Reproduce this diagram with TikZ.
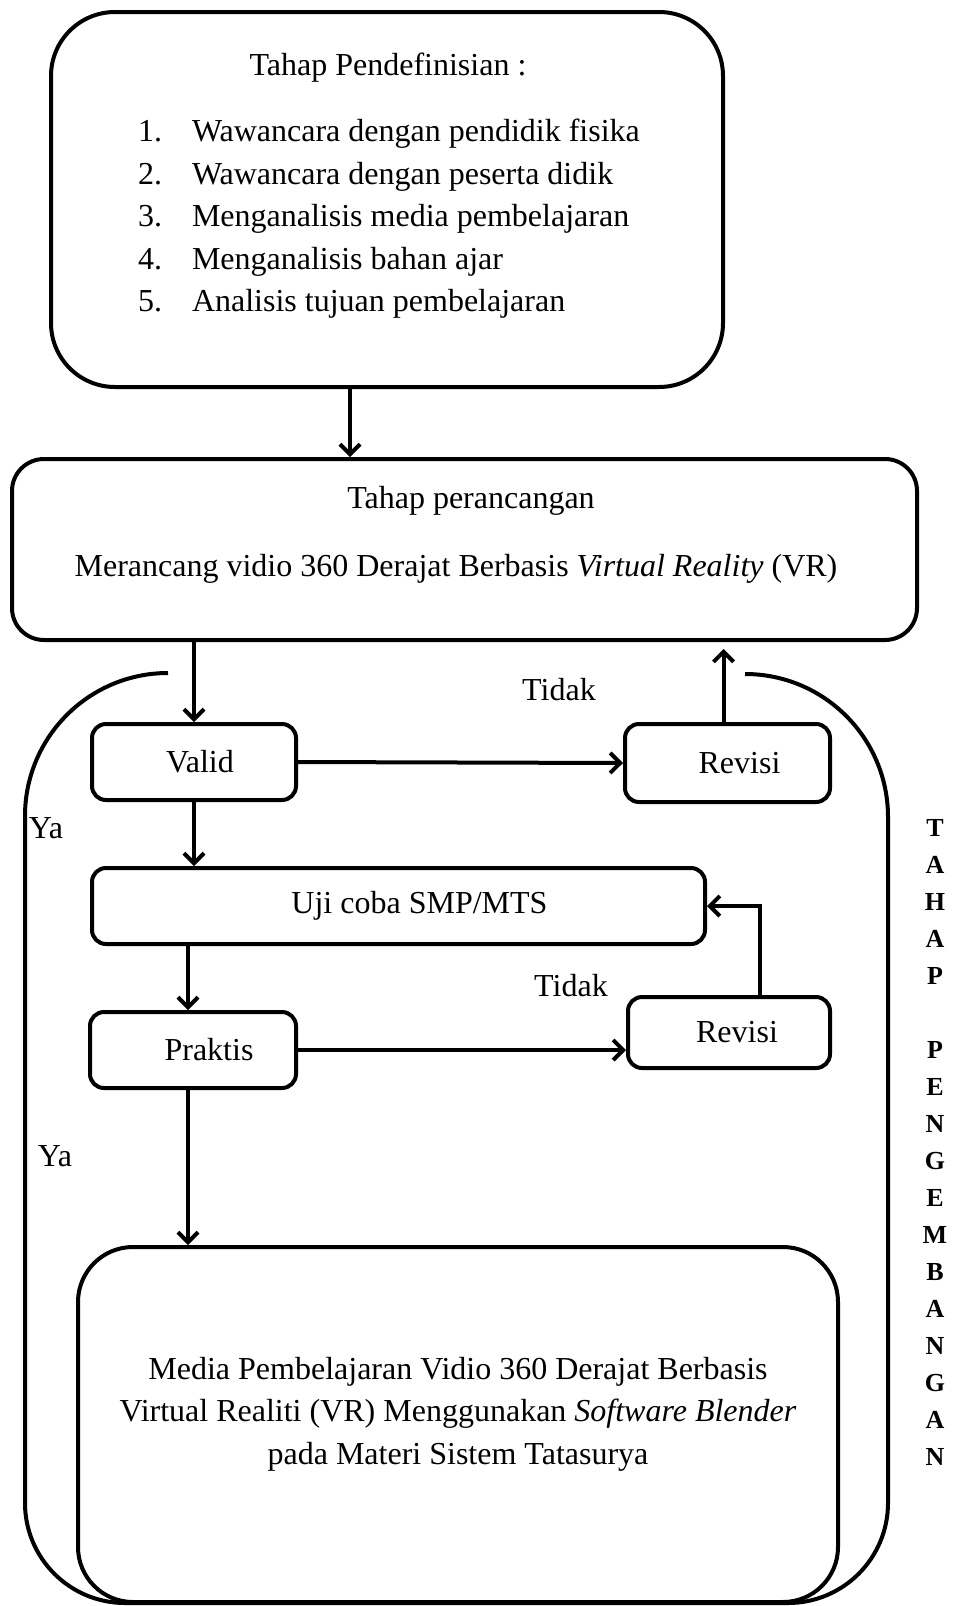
\documentclass[tikz,border=0pt]{standalone}
\usepackage{fontspec}
\setmainfont{Liberation Serif}
\usetikzlibrary{arrows.meta}

\begin{document}
\begin{tikzpicture}[
    x=0.5pt, y=-0.5pt,
    line width=2pt,
    font=\fontsize{16}{21.25}\selectfont,
    lbl/.style = {inner sep=0pt, text height=0.68em, text depth=0.2em, yshift=-3pt},
    blk/.style = {draw, rounded corners=#1, inner sep=0pt},
    blk/.default = 7pt,
    arr/.style = {-{Straight Barb[length=5pt,width=10pt]}},
  ]
  \useasboundingbox (0,0) rectangle (958,1606);

  % tahap pendefinisian
  \node[blk=32pt, minimum width=336pt, minimum height=187.5pt] (def) at (387,199.5) {};
  \node[lbl] (deftitle) at (388,65) {Tahap Pendefinisian :};
  \foreach \t [count=\i] in {Wawancara dengan pendidik fisika, Wawancara dengan peserta didik,
      Menganalisis media pembelajaran, Menganalisis bahan ajar, Analisis tujuan pembelajaran} {
    \node[lbl, anchor=east] (num\i) at (164,88.5+42.5*\i) {\i.};
    \node[lbl, anchor=west] (item\i) at (190,88.5+42.5*\i) {\t};
  }

  % tahap perancangan
  \node[blk=16pt, minimum width=452.5pt, minimum height=90.5pt] (des) at (464.5,549.5) {};
  \node[lbl] (destitle) at (471,498) {Tahap perancangan};
  \node[lbl] (destext) at (456,566) {Merancang vidio 360 Derajat Berbasis \textit{Virtual Reality} (VR)};

  % tahap pengembangan
  \draw (168,673) arc[start angle=270, end angle=180, radius=143]
    -- (25,1503) arc[start angle=180, end angle=90, radius=100]
    -- (788,1603) arc[start angle=90, end angle=0, radius=100]
    -- (888,817) arc[start angle=0, end angle=-90, radius=143];

  \node[blk, minimum width=102pt, minimum height=38pt] (valid) at (194,762) {\hspace*{6pt}Valid};
  \node[blk, minimum width=102.5pt, minimum height=39pt] (revA) at (727.5,763) {\hspace*{12pt}Revisi};
  \node[blk, minimum width=306.5pt, minimum height=38pt] (uji) at (398.5,906) {\hspace*{21pt}Uji coba SMP/MTS};
  \node[blk, minimum width=103pt, minimum height=38pt] (praktis) at (193,1050) {\hspace*{16pt}Praktis};
  \node[blk, minimum width=101pt, minimum height=35.5pt] (revB) at (729,1032.5) {\hspace*{8pt}Revisi};
  \node[blk=27.5pt, minimum width=380pt, minimum height=177.5pt] (media) at (458,1424.5) {};
  \node[align=center, inner sep=0pt] (mediatext) at (458,1414)
    {Media Pembelajaran Vidio 360 Derajat Berbasis\\
     Virtual Realiti (VR) Menggunakan \textit{Software Blender}\\
     pada Materi Sistem Tatasurya};

  \node[lbl] (tidakA) at (559,690) {Tidak};
  \node[lbl] (tidakB) at (571,986) {Tidak};
  \node[lbl] (yaA) at (46,828) {Ya};
  \node[lbl] (yaB) at (55,1156) {Ya};

  \node[font=\fontsize{13}{18.5}\selectfont\bfseries, align=center, inner sep=0pt] (tahap) at (935,1142)
    {T\\A\\H\\A\\P\\[18.5pt]P\\E\\N\\G\\E\\M\\B\\A\\N\\G\\A\\N};

  % arrows
  \draw[arr] ([xshift=-18.5pt]def.south) -- ([xshift=-18.5pt]def.south |- des.north);
  \draw[arr] (valid.north |- des.south) -- (valid.north);
  \draw[arr] (valid.east) -- (revA.west);
  \draw[arr, shorten >=3.5pt] ([xshift=-2pt]revA.north) -- ([xshift=-2pt]revA.north |- des.south);
  \draw[arr] (valid.south) -- (valid.south |- uji.north);
  \draw[arr] ([xshift=-2.5pt]praktis.north |- uji.south) -- ([xshift=-2.5pt]praktis.north);
  \draw[arr] (praktis.east) -- (praktis.east -| revB.west);
  \draw[arr] ([xshift=15.5pt]revB.north) |- (uji.east);
  \draw[arr] ([xshift=-2.5pt]praktis.south) -- ([xshift=-2.5pt]praktis.south |- media.north);
\end{tikzpicture}
\end{document}
